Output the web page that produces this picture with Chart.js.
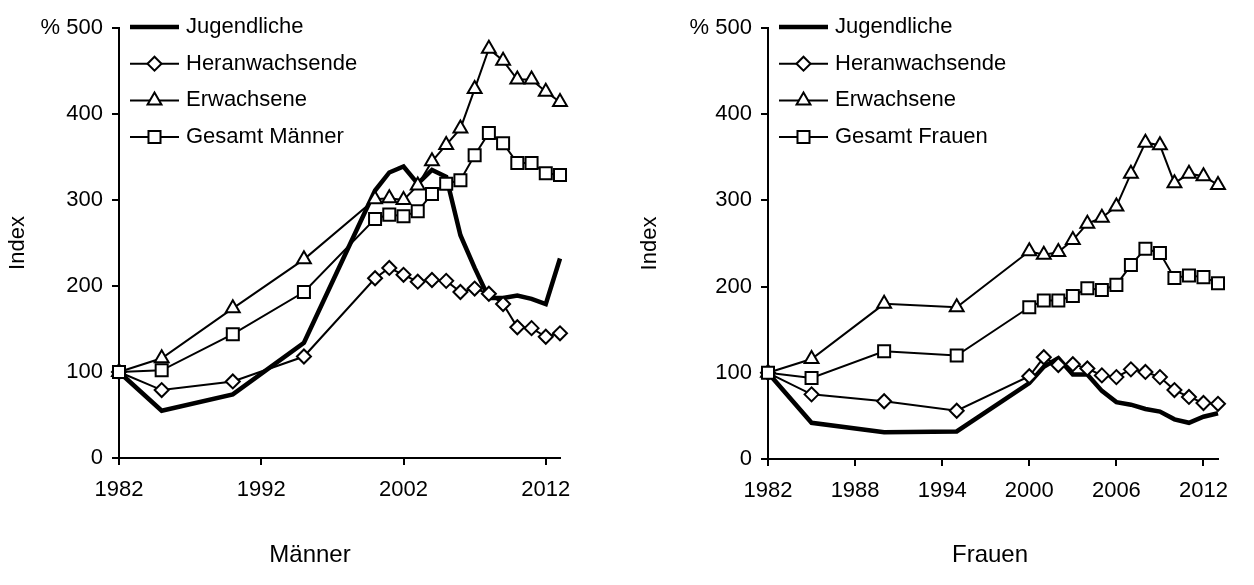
<!doctype html>
<html>
  <head>
    <title>Index Männer / Frauen</title>
    <meta charset="UTF-8">
    <script src="https://cdn.jsdelivr.net/npm/chart.js"></script>
    <style>
      html, body { margin: 0; padding: 0; background: #fff; }
      .panel { position: absolute; top: 0; width: 627px; height: 585px; }
    </style>
  </head>
  <body>
    <div class="panel" style="left:0"><canvas id="maenner"></canvas></div>
    <div class="panel" style="left:627px"><canvas id="frauen"></canvas></div>
    <script>
      const years = [1982, 1985, 1990, 1995, 2000, 2001, 2002, 2003, 2004, 2005,
                     2006, 2007, 2008, 2009, 2010, 2011, 2012, 2013];

      const mJugendliche    = [100, 55, 74, 134, 311, 332, 339, 319, 335, 327, 259, 221, 186, 186, 189, 185, 179, 232];
      const mHeranwachsende = [100, 79, 89, 118, 209, 221, 213, 205, 207, 206, 193, 197, 191, 179, 152, 151, 141, 145];
      const mErwachsene     = [100, 116, 174, 231, 301, 302, 300, 317, 345, 364, 383, 429, 476, 462, 440, 440, 426, 414];
      const mGesamt         = [100, 102, 144, 193, 278, 283, 281, 287, 307, 319, 323, 352, 378, 366, 343, 343, 331, 329];

      const fJugendliche    = [100, 42, 31, 32, 88, 107, 117, 98, 98, 79, 66, 63, 58, 55, 46, 42, 49, 53];
      const fHeranwachsende = [100, 75, 67, 56, 96, 118, 109, 110, 105, 97, 95, 104, 101, 95, 80, 72, 65, 64];
      const fErwachsene     = [100, 116, 180, 176, 241, 237, 240, 254, 273, 280, 293, 331, 367, 364, 320, 331, 328, 318];
      const fGesamt         = [100, 94, 125, 120, 176, 184, 184, 189, 198, 196, 202, 225, 244, 239, 210, 213, 211, 204];

      const xTicksMaenner = [1982, 1992, 2002, 2012];
      const xTicksFrauen  = [1982, 1988, 1994, 2000, 2006, 2012];
      const yTicks        = [0, 100, 200, 300, 400, 500];

      const FONT = '"Liberation Sans", Arial, sans-serif';
      Chart.defaults.color = '#000';
      Chart.defaults.font.family = FONT;

      // legend drawn inside the plot (line sample + marker) and the panel caption below
      const sideLegend = {
        id: 'sideLegend',
        afterDraw(chart, args, opts) {
          const ctx = chart.ctx;
          ctx.save();
          chart.data.datasets.forEach((ds, i) => {
            const y = opts.top + i * opts.rowGap;
            ctx.strokeStyle = '#000';
            ctx.lineWidth = ds.borderWidth;
            ctx.beginPath();
            ctx.moveTo(opts.left, y);
            ctx.lineTo(opts.left + opts.lineLength, y);
            ctx.stroke();
            if (ds.pointRadius > 0) {
              ctx.fillStyle = '#fff';
              ctx.lineWidth = ds.pointBorderWidth;
              Chart.helpers.drawPoint(ctx, {
                pointStyle: ds.pointStyle, radius: ds.pointRadius,
                rotation: 0, borderWidth: ds.pointBorderWidth
              }, opts.left + opts.lineLength / 2, y);
            }
            ctx.fillStyle = '#000';
            ctx.font = '22px ' + FONT;
            ctx.textBaseline = 'middle';
            ctx.textAlign = 'left';
            ctx.fillText(ds.label, opts.left + opts.lineLength + opts.gap, y);
          });
          ctx.font = '24px ' + FONT;
          ctx.textAlign = 'center';
          ctx.textBaseline = 'middle';
          ctx.fillStyle = '#000';
          ctx.fillText(opts.caption, opts.captionX, opts.captionY);
          ctx.restore();
        }
      };

      function series(label, data, style, radius, order) {
        return {
          label,
          data: data.map((v, i) => ({ x: years[i], y: v })),
          borderColor: '#000',
          borderWidth: style ? 2 : 4.5,
          pointStyle: style || 'circle',
          pointRadius: radius,
          pointHoverRadius: radius,
          pointBackgroundColor: '#fff',
          pointBorderColor: '#000',
          pointBorderWidth: 2,
          tension: 0,
          fill: false,
          clip: false,
          order
        };
      }

      function renderPanel(id, title, lastLabel, xTicks, data, layout) {
        new Chart(document.getElementById(id), {
          type: 'line',
          data: {
            datasets: [
              series('Jugendliche', data[0], null, 0, 4),
              series('Heranwachsende', data[1], 'rectRot', 7, 3),
              series('Erwachsene', data[2], 'triangle', 8, 2),
              series(lastLabel, data[3], 'rect', 8.5, 1)
            ]
          },
          options: {
            responsive: true,
            maintainAspectRatio: false,
            animation: false,
            events: [],
            layout: { padding: { left: 0, right: layout.right, top: 28, bottom: 0 } },
            plugins: {
              legend: { display: false },
              tooltip: { enabled: false },
              sideLegend: { left: layout.legendX, top: 27, rowGap: 36.7, lineLength: 49, gap: 7,
                            caption: title, captionX: layout.captionX, captionY: 555 }
            },
            scales: {
              x: {
                type: 'linear',
                min: 1982,
                max: 2013,
                afterBuildTicks: s => { s.ticks = xTicks.map(v => ({ value: v })); },
                afterFit: s => { s.height = 585 - layout.bottom; },
                ticks: { font: { size: 22 }, padding: 12, maxRotation: 0, autoSkip: false,
                         callback: v => String(v) },
                grid: { drawOnChartArea: false, tickLength: 7, color: '#000', lineWidth: 2 },
                border: { color: '#000', width: 2 }
              },
              y: {
                min: 0,
                max: 500,
                afterBuildTicks: s => { s.ticks = yTicks.map(v => ({ value: v })); },
                afterFit: s => { s.width = layout.left; },
                ticks: { font: { size: 22 }, padding: 9,
                         callback: v => v === 500 ? '% 500' : String(v) },
                grid: { drawOnChartArea: false, tickLength: 7, color: '#000', lineWidth: 2 },
                border: { color: '#000', width: 2 },
                title: { display: true, text: 'Index', font: { size: 22 }, padding: { top: layout.titlePad } }
              }
            }
          },
          plugins: [sideLegend]
        });
      }

      renderPanel('maenner', 'Männer', 'Gesamt Männer', xTicksMaenner,
        [mJugendliche, mHeranwachsende, mErwachsene, mGesamt],
        { left: 119, right: 67, bottom: 458, legendX: 130, titlePad: 5, captionX: 310 });

      renderPanel('frauen', 'Frauen', 'Gesamt Frauen', xTicksFrauen,
        [fJugendliche, fHeranwachsende, fErwachsene, fGesamt],
        { left: 141, right: 36, bottom: 459, legendX: 152, titlePad: 10, captionX: 363 });
    </script>
  </body>
</html>
